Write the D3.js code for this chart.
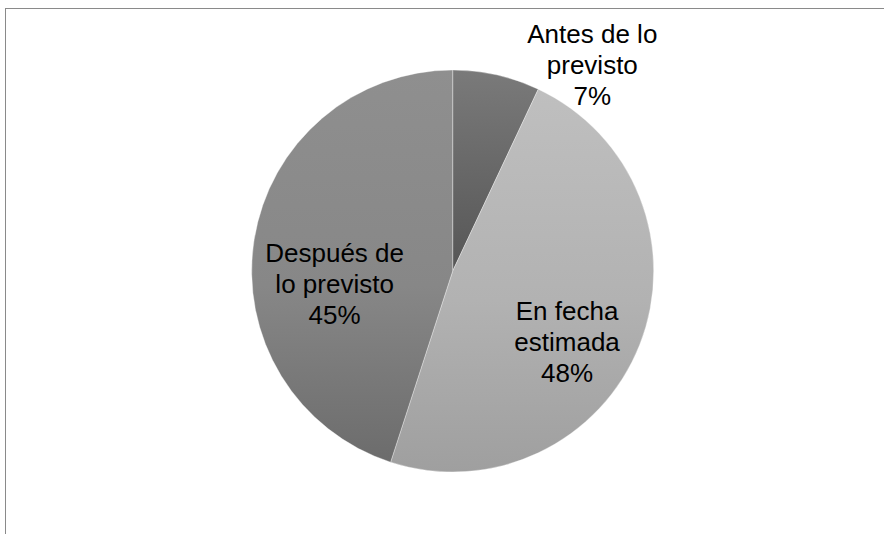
<!DOCTYPE html>
<html>
<head>
<meta charset="utf-8">
<script src="https://cdn.jsdelivr.net/npm/d3@7"></script>
<style>
  html, body { margin: 0; padding: 0; background: #ffffff; }
  svg { display: block; }
  text { font-family: "Liberation Sans", Arial, sans-serif; }
</style>
</head>
<body>
<svg id="chart" width="884" height="534"></svg>
<script>
// Plazo de entrega: share of deliveries by timing
const categories = ["Antes de lo previsto", "En fecha estimada", "Después de lo previsto"];
const labelLines = [["Antes de lo", "previsto"], ["En fecha", "estimada"], ["Después de", "lo previsto"]];
const values = [7, 48, 45];

// Slice shading: top, middle, bottom gradient stops
const sliceShades = [
  ["#7a7a7a", "#666666", "#565656"],
  ["#bfbfbf", "#b2b2b2", "#9f9f9f"],
  ["#8f8f8f", "#878787", "#6c6c6c"]
];

// Label placement: radius factor for the anchor and a nudge from it
const labelPlacement = [
  { k: 1.2, dx: 87, dy: 38 },
  { k: 0.62, dx: -1.5, dy: 34.5 },
  { k: 0.62, dx: 5, dy: 41.5 }
];

const W = 884, H = 534;
const cx = 452.7, cy = 271, R = 201;
const fontSize = 26, lineGap = 31;

const svg = d3.select("#chart");

// chart area frame
svg.append("rect")
  .attr("x", 5.5).attr("y", 8.5)
  .attr("width", W + 20).attr("height", H + 20)
  .attr("fill", "#ffffff")
  .attr("stroke", "#8a8a8a")
  .attr("stroke-width", 1);

const defs = svg.append("defs");
sliceShades.forEach((s, i) => {
  const g = defs.append("linearGradient")
    .attr("id", "shade" + i)
    .attr("x1", 0).attr("y1", 0).attr("x2", 0).attr("y2", 1);
  g.append("stop").attr("offset", "0%").attr("stop-color", s[0]);
  g.append("stop").attr("offset", "55%").attr("stop-color", s[1]);
  g.append("stop").attr("offset", "100%").attr("stop-color", s[2]);
});

const pie = d3.pie().sort(null).value(d => d);
const arcs = pie(values);
const arc = d3.arc().innerRadius(0).outerRadius(R);

const g = svg.append("g").attr("transform", `translate(${cx},${cy})`);

g.selectAll("path.slice")
  .data(arcs)
  .join("path")
  .attr("class", "slice")
  .attr("d", arc)
  .attr("fill", (d, i) => `url(#shade${i})`)
  .attr("stroke", "#ffffff")
  .attr("stroke-opacity", 0.45)
  .attr("stroke-width", 0.75);

// data labels: category name lines plus the percentage
const total = d3.sum(values);
arcs.forEach((d, i) => {
  const p = labelPlacement[i];
  const mid = (d.startAngle + d.endAngle) / 2;
  const x = Math.sin(mid) * R * p.k + p.dx;
  const y = -Math.cos(mid) * R * p.k + p.dy;
  const lines = labelLines[i].concat([Math.round(values[i] / total * 100) + "%"]);
  const t = g.append("text")
    .attr("text-anchor", "middle")
    .attr("font-size", fontSize)
    .attr("fill", "#000000");
  lines.forEach((ln, j) => {
    t.append("tspan")
      .attr("x", x)
      .attr("y", y + (j - 1) * lineGap)
      .text(ln);
  });
});
</script>
</body>
</html>
